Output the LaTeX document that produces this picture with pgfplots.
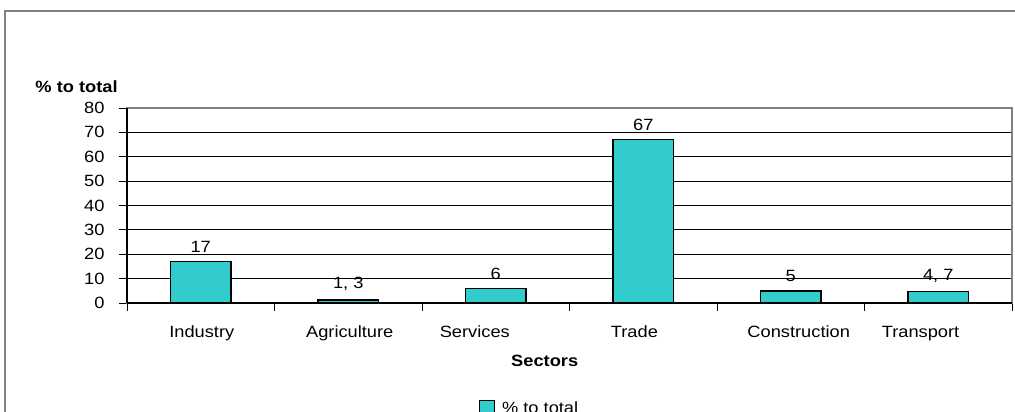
\documentclass[border=0pt]{standalone}
\usepackage{pgfplots}
\pgfplotsset{compat=1.18}
\usepackage{pgfplotstable}
\usepackage{fontspec}
\setmainfont{Liberation Sans}[FakeStretch=1.12]
\definecolor{barfill}{HTML}{33CCCC}
\definecolor{framegray}{HTML}{808080}

\pgfplotstableread[col sep=semicolon, row sep=\\]{
x;y;lab\\
0;17;17\\
1;1.3;1, 3\\
2;6;6\\
3;67;67\\
4;5;5\\
5;4.7;4, 7\\
}\datatable

\begin{document}
\begin{tikzpicture}[font=\fontsize{16.3bp}{19bp}\selectfont]
\draw[framegray, line width=1.5bp] (5bp,-20bp) rectangle (1040bp,401bp);
\begin{axis}[
  at={(127bp,109bp)}, anchor=south west,
  scale only axis,
  width=885bp, height=195bp,
  xmin=-0.5, xmax=5.5,
  ymin=0, ymax=80,
  ytick={0,10,...,80},
  xtick={-0.5,0.5,...,5.5},
  xticklabels={},
  xtick pos=bottom, ytick pos=left,
  extra x ticks={0.007,1.01,1.858,2.94,4.054,4.88},
  extra x tick labels={Industry,Agriculture,Services,Trade,Construction,Transport},
  extra x tick style={major tick length=0pt, grid=none,
     xticklabel style={yshift=-19bp, text height=12bp, text depth=3.5bp}},
  tick align=outside,
  major tick length=8bp,
  tick style={black, line width=1bp},
  /pgf/number format/assume math mode=true,
  ymajorgrids,
  major grid style={black, line width=1.1bp},
  axis line style={framegray, line width=1.2bp},
  yticklabel style={xshift=-11bp},
  ylabel={\bfseries \% to total},
  every axis y label/.style={at={(axis description cs:-0.057,1.108)}, anchor=center},
  xlabel={\bfseries Sectors},
  every axis x label/.style={at={(axis description cs:0.472,-0.297)}, anchor=center},
  legend style={at={(axis description cs:0.4548,-0.54)}, anchor=center, draw=none, fill=none,
     legend cell align=left, /tikz/every even column/.append style={column sep=0bp}},
  legend image code/.code={\draw[#1, line width=1.3bp] (0bp,-7bp) rectangle (15bp,8bp);},
  clip=false,
]
\addplot[ybar, bar width=0.407, fill=barfill, draw=black, line width=1.5bp,
  point meta=explicit symbolic,
  nodes near coords,
  every node near coord/.append style={yshift=5bp, black, font=\fontsize{16.3bp}{19bp}\selectfont}]
  table[x=x, y=y, meta=lab] {\datatable};
\addlegendentry{\hspace{5bp}\% to total}
\draw[black, line width=1.2bp] (axis description cs:0,0) -- (axis description cs:0,1);
\draw[black, line width=1.2bp] (axis description cs:0,0) -- (axis description cs:1,0);
\end{axis}
\pgfresetboundingbox
\path[use as bounding box] (0,0) rectangle (1015bp,412bp);
\end{tikzpicture}
\end{document}
